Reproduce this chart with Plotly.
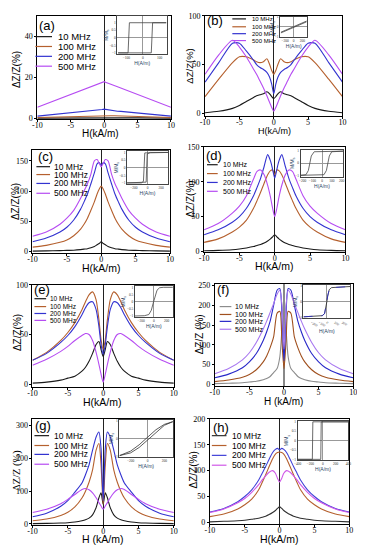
import plotly.graph_objects as go

# ---------------- data ----------------
H = [-10, -8, -6, -5, -4, -3, -2.5, -2, -1.5, -1, -0.6, -0.3, 0, 0.3, 0.6, 1, 1.5, 2, 2.5, 3, 4, 5, 6, 8, 10]
FREQS = ["10 MHz", "100 MHz", "200 MHz", "500 MHz"]
XTICKS = [-10, -5, 0, 5, 10]
XTICKTEXT = ["-10", "-5", "0", "5", "10"]

a_10 = [0.2,0.25,0.3,0.33,0.36,0.4,0.42,0.45,0.48,0.5,0.53,0.56,0.6,0.56,0.53,0.5,0.48,0.45,0.42,0.4,0.36,0.33,0.3,0.25,0.2]
a_100 = [0.5,0.7,0.9,1.0,1.1,1.2,1.25,1.3,1.35,1.4,1.5,1.55,1.6,1.55,1.5,1.4,1.35,1.3,1.25,1.2,1.1,1.0,0.9,0.7,0.5]
a_200 = [1.2,1.8,2.4,2.7,3.0,3.3,3.5,3.6,3.8,4.0,4.2,4.4,4.6,4.4,4.2,4.0,3.8,3.6,3.5,3.3,3.0,2.7,2.4,1.8,1.2]
a_500 = [5.5,8,10.5,11.8,13,14.3,14.9,15.5,16.1,16.8,17.3,17.6,18,17.6,17.3,16.8,16.1,15.5,14.9,14.3,13,11.8,10.5,8,5.5]

b_10 = [0.5,2,5,8,12,16,18,19,20,22,20,17,15,17,20,22,20,19,18,16,12,8,5,2,0.5]
b_100 = [17,35,52,58,58,55,53,52,53,56,50,44,40,44,50,56,53,52,53,55,58,58,52,35,17]
b_200 = [32,52,72,72,64,55,50,47,45,42,37,30,20,30,37,42,45,47,50,55,64,72,72,52,32]
b_500 = [40,60,75,68,58,46,40,33,26,18,11,6,2,6,11,18,26,33,40,46,58,68,75,60,40]

c_10 = [0.5,0.8,1.2,1.6,2,3,3.7,4.5,6,8,11,13,16,13,11,8,6,4.5,3.7,3,2,1.6,1.2,0.8,0.5]
c_100 = [7,10,15,19,26,37,45,55,68,82,95,103,108,103,95,82,68,55,45,37,26,19,15,10,7]
c_200 = [16,22,32,40,52,70,82,95,112,130,145,147,143,147,145,130,112,95,82,70,52,40,32,22,16]
c_500 = [25,32,45,55,68,88,100,112,128,150,152,146,140,146,152,150,128,112,100,88,68,55,45,32,25]

d_10 = [1,1.5,2.5,3.5,5,7,8.5,10,12,15,18,21,24,21,18,15,12,10,8.5,7,5,3.5,2.5,1.5,1]
d_100 = [13,18,28,35,45,62,73,85,98,110,116,117,110,117,116,110,98,85,73,62,45,35,28,18,13]
d_200 = [24,31,42,50,62,80,92,105,122,139,130,118,105,118,130,139,122,105,92,80,62,50,42,31,24]
d_500 = [31,40,55,65,80,104,115,117,110,95,78,62,50,62,78,95,110,117,115,104,80,65,55,40,31]

e_10 = [1,2,4,6,8,13,17,23,31,40,43,35,28,35,43,40,31,23,17,13,8,6,4,2,1]
e_100 = [24,32,44,52,62,75,83,90,93,85,65,45,35,45,65,85,93,90,83,75,62,52,44,32,24]
e_200 = [24,31,42,49,58,70,77,82,83,75,58,40,30,40,58,75,83,82,77,70,58,49,42,31,24]
e_500 = [19,25,33,38,44,49,51,50,44,32,20,10,2,10,20,32,44,50,51,49,44,38,33,25,19]

f_10 = [2,3,4,6,8,12,15,20,30,40,70,140,225,140,70,40,30,20,15,12,8,6,4,3,2]
f_100 = [7,11,18,25,37,57,72,93,120,180,185,110,40,110,185,180,120,93,72,57,37,25,18,11,7]
f_200 = [17,26,42,57,78,111,133,160,200,238,242,180,60,180,242,238,200,160,133,111,78,57,42,26,17]
f_500 = [27,40,62,80,106,140,160,182,204,228,238,200,90,200,238,228,204,182,160,140,106,80,62,40,27]

g_10 = [1,2,3,4,6,10,13,18,28,50,80,95,60,95,80,50,28,18,13,10,6,4,3,2,1]
g_100 = [10,15,26,36,52,79,100,127,165,225,245,180,60,180,245,225,165,127,100,79,52,36,26,15,10]
g_200 = [22,33,54,71,97,125,150,180,225,265,280,230,70,230,280,265,225,180,150,125,97,71,54,33,22]
g_500 = [35,45,62,75,90,105,108,104,95,80,65,55,45,55,65,80,95,104,108,105,90,75,62,45,35]

h_10 = [1,2,3,4,6,8,10,12,15,19,23,27,30,27,23,19,15,12,10,8,6,4,3,2,1]
h_100 = [11,16,26,34,45,63,77,92,108,123,132,135,136,135,132,123,108,92,77,63,45,34,26,16,11]
h_200 = [20,27,40,50,63,82,95,108,122,135,141,143,140,143,141,135,122,108,95,82,63,50,40,27,20]
h_500 = [19,26,38,46,58,73,82,90,97,100,95,85,78,85,95,100,97,90,82,73,58,46,38,26,19]

# inset hysteresis loops (H in A/m, M/Ms)
ins_a_x = [-150, 50, 58, 140, -82, -90, -150]
ins_a_y = [-1, -1, 1, 1, 1, -1, -1]
ins_b_x = [-300, 300]
ins_b_y1 = [-0.62, 0.5]
ins_b_y2 = [-0.55, 0.58]
ins_c_x = [-300, -20, -5, 40, 300, -40, -60, -90, -300]
ins_c_y = [-1, -0.95, 0.9, 1, 1, 0.97, -0.9, -1, -1]
ins_d_x = [-220, 20, 45, 60, 75, 100, 220, -80, -110, -125, -140, -165, -220]
ins_d_y = [-1, -0.95, -0.6, 0, 0.6, 0.95, 1, 0.95, 0.6, 0, -0.6, -0.95, -1]
ins_e_x = [-300, -150, -80, -40, -10, 20, 50, 90, 150, 300]
ins_e_y = [-1, -0.98, -0.9, -0.6, -0.1, 0.4, 0.8, 0.97, 1, 1]
ins_f_x = [-300, -150, -60, -30, -10, 0, 10, 30, 60, 150, 300]
ins_f_y = [-0.95, -0.92, -0.88, -0.75, -0.35, 0, 0.35, 0.75, 0.88, 0.92, 0.95]
ins_g_x = [-330, -200, -100, 0, 100, 200, 300]
ins_g_y1 = [-0.95, -0.8, -0.5, -0.1, 0.35, 0.75, 0.95]
ins_g_y2 = [-0.95, -0.7, -0.35, 0.1, 0.5, 0.8, 0.95]
ins_h_x = [-400, -35, -28, 400, -160, -168, -400]
ins_h_y = [-1, -1, 1, 1, 1, -1, -1]

# ---------------- layout helpers ----------------
# the page body adds an 8px margin, so the figure is offset by 8px; positions below are window pixels
OFF = 8
W, HH = 365 - OFF, 550 - OFF
BLACK, BROWN, BLUE, VIOLET = "#1a1a1a", "#b5602e", "#3333d0", "#b64cf2"

def px(x):
    return (x - OFF) / W

def py(y):
    return 1 - (y - OFF) / HH

panels = [
    dict(label="(a)", curves=[a_10, a_100, a_200, a_500], box=(33, 170, 12, 117), yr=[-0.4, 50], yt=[0, 20, 40],
         colors=[BLACK, BROWN, BLUE, VIOLET], shape="linear",
         lab=(43, 22), xt=(98, 131, "H(kA/m)", 10), yl=(11, 66, "ΔZ/Z(%)", 10),
         leg=([33, 43, 53, 63], (31, 48), 52, 9.5)),
    dict(label="(b)", curves=[b_10, b_100, b_200, b_500], box=(205, 346, 12, 114), yr=[-3.3, 100], yt=[0, 50, 100],
         colors=[BLACK, BROWN, BLUE, VIOLET], shape="spline",
         lab=(215, 17), xt=(276, 129, "H(kA/m)", 9), yl=(189, 63, "ΔZ/Z(%)", 9.5),
         leg=([15, 23, 30, 37], (233, 247), 251, 6)),
    dict(label="(c)", curves=[c_10, c_100, c_200, c_500], box=(28, 169, 148, 253), yr=[-3.3, 168], yt=[0, 50, 100, 150],
         colors=[BLACK, BROWN, BLUE, VIOLET], shape="spline",
         lab=(41, 155), xt=(99, 268, "H(kA/m)", 10.5), yl=(10, 200, "ΔZ/Z(%)", 10),
         leg=([165, 173, 182, 192], (32, 46), 48, 8.5)),
    dict(label="(d)", curves=[d_10, d_100, d_200, d_500], box=(204, 349, 145, 252), yr=[-1.4, 150], yt=[0, 50, 100, 150],
         colors=[BLACK, BROWN, BLUE, VIOLET], shape="spline",
         lab=(214, 154), xt=(276, 266, "H(kA/m)", 10.5), yl=(190, 198, "ΔZ/Z(%)", 10),
         leg=([163, 172, 181, 190], (207, 218), 221, 7)),
    dict(label="(e)", curves=[e_10, e_100, e_200, e_500], box=(28, 173, 285, 389), yr=[-3.3, 100], yt=[0, 50, 100],
         colors=[BLACK, BROWN, BLUE, VIOLET], shape="spline",
         lab=(38, 290), xt=(100, 404, "H(kA/m)", 10.5), yl=(12, 333, "ΔZ/Z(%)", 10),
         leg=([299, 307, 314, 321], (30, 42), 44, 6.5)),
    dict(label="(f)", curves=[f_10, f_100, f_200, f_500], box=(215, 357, 284, 388), yr=[-5, 254], yt=[0, 50, 100, 150, 200, 250],
         colors=["#8c8c8c", "#a0501e", "#2828c8", "#a878f0"], shape="spline",
         lab=(223, 290), xt=(286, 403, "H (kA/m)", 10), yl=(199, 335, "ΔZ/Z (%)", 10),
         leg=([307, 315, 322, 330], (220, 232), 234, 7)),
    dict(label="(g)", curves=[g_10, g_100, g_200, g_500], box=(28, 173, 421, 529), yr=[-4, 320], yt=[0, 100, 200, 300],
         colors=[BLACK, BROWN, BLUE, VIOLET], shape="spline",
         lab=(39, 428), xt=(100, 543, "H (kA/m)", 10.5), yl=(12, 473, "ΔZ/Z (%)", 10.5),
         leg=([438, 448, 457, 467], (30, 45), 48, 8.5)),
    dict(label="(h)", curves=[h_10, h_100, h_200, h_500], box=(210, 353, 421, 528), yr=[-3.8, 200], yt=[0, 50, 100, 150, 200],
         colors=["#303030", BROWN, "#4040d8", "#d058e8"], shape="spline",
         lab=(221, 430), xt=(281, 543, "H(kA/m)", 10.5), yl=(193, 473, "ΔZ/Z(%)", 10),
         leg=([438, 448, 458, 468], (212, 227), 231, 8.5)),
]

insets = [
    dict(box=(115, 166, 12, 51), xr=[-155, 145], yr=[-1.1, 1.45], xt=[-100, 0, 100], yt=[-1, -0.5, 0, 0.5, 1],
         lines=[(ins_a_x, ins_a_y, "#444444", "solid")]),
    dict(box=(282, 310, 13, 33), xr=[-320, 320], yr=[-1, 1], xt=[-200, 0, 200], yt=[-1, 0, 1],
         lines=[(ins_b_x, ins_b_y1, "#444444", "solid"), (ins_b_x, ins_b_y2, "#444444", "solid")]),
    dict(box=(125, 167, 149, 183), xr=[-300, 300], yr=[-1.1, 1.1], xt=[-200, 0, 200], yt=[-1, -0.5, 0, 0.5, 1],
         lines=[(ins_c_x, ins_c_y, "#444444", "solid")]),
    dict(box=(303, 347, 148, 175), xr=[-220, 220], yr=[-1.1, 1.1], xt=[-200, -100, 0, 100, 200], yt=[-1, 0, 1],
         lines=[(ins_d_x, ins_d_y, "#444444", "solid")]),
    dict(box=(133, 172, 286, 318), xr=[-300, 300], yr=[-1.1, 1.1], xt=[-200, 0, 200], yt=[-1, -0.5, 0, 0.5, 1],
         lines=[(ins_e_x, ins_e_y, "#444444", "solid")]),
    dict(box=(306, 354, 285, 319), xr=[-300, 300], yr=[-1.05, 1.05], xt=[-200, -100, 0, 100, 200], yt=[-1, 0, 1],
         lines=[(ins_f_x, ins_f_y, "#222222", "solid"), (ins_f_x, ins_f_y, "#2828c8", "dash")]),
    dict(box=(117, 172, 422, 460), xr=[-335, 300], yr=[-1.05, 1.05], xt=[-200, 0, 200], yt=[-1, 0, 1],
         lines=[(ins_g_x, ins_g_y1, "#333333", "solid"), (ins_g_x, ins_g_y2, "#333333", "solid")]),
    dict(box=(300, 352, 423, 463), xr=[-400, 400], yr=[-1.05, 1.05], xt=[-400, -200, 0, 200, 400], yt=[-1, -0.5, 0, 0.5, 1],
         lines=[(ins_h_x, ins_h_y, "#444444", "solid")]),
]

fig = go.Figure()
layout = dict(width=W, height=HH, margin=dict(l=0, r=0, t=0, b=0),
              paper_bgcolor="white", plot_bgcolor="white", showlegend=False)
annotations = []
shapes = []

def ann(text, x, y, size, family="Liberation Sans", angle=0, xanchor="center", color="black"):
    return dict(text=text, x=px(x), y=py(y), xref="paper", yref="paper", showarrow=False,
                font=dict(size=size, family=family, color=color), textangle=angle,
                xanchor=xanchor, yanchor="middle")

for i, p in enumerate(panels):
    n = i + 1
    x0, x1, y0, y1 = p["box"]
    xa, ya = f"xaxis{n}", f"yaxis{n}"
    zl_col = "#888888" if p["label"] == "(f)" else "#222222"
    zl_w = 2 if p["label"] == "(f)" else 1
    layout[xa] = dict(domain=[px(x0), px(x1)], range=[-10, 10], anchor=f"y{n}",
                      tickvals=XTICKS, ticktext=XTICKTEXT, showgrid=False,
                      showline=True, linecolor="black", linewidth=1, mirror=True,
                      ticks="outside", ticklen=2, tickcolor="black", ticklabelstandoff=-4,
                      tickfont=dict(family="Liberation Serif", size=8, color="black"),
                      zeroline=True, zerolinecolor=zl_col, zerolinewidth=zl_w)
    layout[ya] = dict(domain=[py(y1), py(y0)], range=p["yr"], anchor=f"x{n}",
                      tickvals=p["yt"], showgrid=False,
                      showline=True, linecolor="black", linewidth=1, mirror=True,
                      ticks="outside", ticklen=2, tickcolor="black",
                      tickfont=dict(family="Liberation Serif", size=8, color="black"),
                      zeroline=False)
    for k, (vals, col) in enumerate(zip(p["curves"], p["colors"])):
        line = dict(color=col, width=1.1, shape=p["shape"])
        if p["shape"] == "spline":
            line["smoothing"] = 0.7
        fig.add_trace(go.Scatter(x=H, y=vals, mode="lines", line=line, name=FREQS[k],
                                 xaxis=f"x{n}", yaxis=f"y{n}", hoverinfo="skip"))
    annotations.append(ann(p["label"], p["lab"][0], p["lab"][1], 13))
    tx, ty, tt, ts = p["xt"]
    annotations.append(ann(tt, tx, ty, ts))
    lx, ly, lt, ls = p["yl"]
    fam = "Liberation Serif" if p["label"] == "(g)" else "Liberation Sans"
    annotations.append(ann(lt, lx, ly, ls, family=fam, angle=-90))
    ys, (lx0, lx1), txx, fs = p["leg"]
    for k, yy in enumerate(ys):
        shapes.append(dict(type="line", xref="paper", yref="paper", x0=px(lx0), x1=px(lx1),
                           y0=py(yy), y1=py(yy), line=dict(color=p["colors"][k], width=1.2)))
        annotations.append(ann(FREQS[k], txx, yy, fs, xanchor="left"))

for j, ins in enumerate(insets):
    n = 9 + j
    x0, x1, y0, y1 = ins["box"]
    layout[f"xaxis{n}"] = dict(domain=[px(x0), px(x1)], range=ins["xr"], anchor=f"y{n}",
                               tickvals=ins["xt"], showgrid=False, showline=True, linecolor="#444444",
                               linewidth=0.7, mirror=True, ticks="", ticklen=0,
                               tickfont=dict(family="Liberation Serif", size=3.5, color="#333333"),
                               zeroline=True, zerolinecolor="#999999", zerolinewidth=0.6,
                               title=dict(text="H(A/m)", font=dict(size=5, family="Liberation Sans"), standoff=0))
    layout[f"yaxis{n}"] = dict(domain=[py(y1), py(y0)], range=ins["yr"], anchor=f"x{n}",
                               tickvals=ins["yt"], showgrid=False, showline=True, linecolor="#444444",
                               linewidth=0.7, mirror=True, ticks="", ticklen=0,
                               tickfont=dict(family="Liberation Serif", size=3.5, color="#333333"),
                               zeroline=True, zerolinecolor="#999999", zerolinewidth=0.6,
                               title=dict(text="M/M<sub>s</sub>", font=dict(size=5, family="Liberation Sans"), standoff=0))
    for (lxv, lyv, col, dash) in ins["lines"]:
        fig.add_trace(go.Scatter(x=lxv, y=lyv, mode="lines", line=dict(color=col, width=0.8, dash=dash),
                                 xaxis=f"x{n}", yaxis=f"y{n}", hoverinfo="skip"))

layout["annotations"] = annotations
layout["shapes"] = shapes
fig.update_layout(**layout)
fig.write_html("out.html")
